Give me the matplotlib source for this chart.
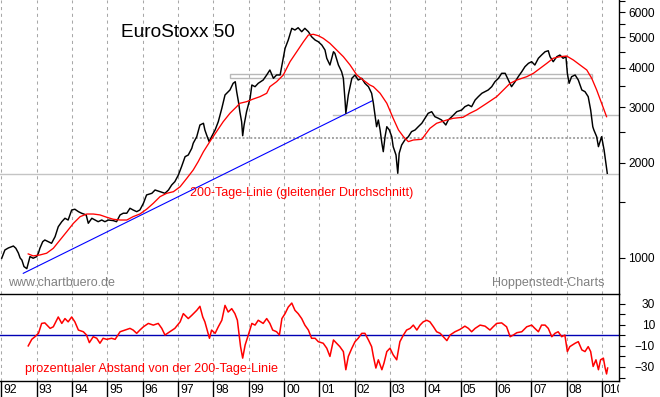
import matplotlib
matplotlib.use('Agg')
import matplotlib.pyplot as plt
import matplotlib.transforms as mtransforms
from matplotlib.ticker import FixedLocator, NullFormatter, FuncFormatter
from matplotlib.patches import Rectangle

plt.rcParams['font.family'] = ['Liberation Sans', 'DejaVu Sans']

#----------Data----------------------------------
price_years = [1992.01, 1992.10, 1992.20, 1992.34, 1992.41, 1992.48, 1992.53, 1992.58, 1992.64, 1992.72,
               1992.81, 1992.90, 1993.00, 1993.05, 1993.09, 1993.17, 1993.23, 1993.33, 1993.42, 1993.52,
               1993.61, 1993.71, 1993.80, 1993.89, 1993.99, 1994.08, 1994.18, 1994.27, 1994.40, 1994.46,
               1994.56, 1994.65, 1994.74, 1994.84, 1994.93, 1995.03, 1995.17, 1995.26, 1995.36, 1995.45,
               1995.55, 1995.64, 1995.73, 1995.83, 1995.92, 1996.02, 1996.11, 1996.26, 1996.35, 1996.49,
               1996.63, 1996.73, 1996.82, 1996.91, 1997.01, 1997.10, 1997.20, 1997.29, 1997.39, 1997.43,
               1997.53, 1997.62, 1997.72, 1997.76, 1997.81, 1997.88, 1997.95, 1998.05, 1998.14, 1998.24,
               1998.33, 1998.42, 1998.47, 1998.56, 1998.62, 1998.66, 1998.71, 1998.75, 1998.80, 1998.83,
               1998.87, 1998.94, 1999.04, 1999.09, 1999.18, 1999.27, 1999.41, 1999.51, 1999.60, 1999.70,
               1999.79, 1999.89, 1999.96, 2000.03, 2000.12, 2000.22, 2000.31, 2000.40, 2000.50, 2000.59,
               2000.69, 2000.78, 2000.88, 2000.97, 2001.07, 2001.16, 2001.21, 2001.30, 2001.40, 2001.44,
               2001.54, 2001.63, 2001.68, 2001.73, 2001.75, 2001.82, 2001.92, 2002.01, 2002.10, 2002.20,
               2002.29, 2002.39, 2002.48, 2002.53, 2002.58, 2002.62, 2002.67, 2002.72, 2002.77, 2002.81,
               2002.86, 2002.91, 2002.98, 2003.05, 2003.09, 2003.17, 2003.22, 2003.26, 2003.33, 2003.42,
               2003.52, 2003.61, 2003.71, 2003.80, 2003.90, 2003.99, 2004.08, 2004.18, 2004.27, 2004.37,
               2004.46, 2004.58, 2004.65, 2004.75, 2004.89, 2005.03, 2005.12, 2005.22, 2005.31, 2005.41,
               2005.50, 2005.60, 2005.69, 2005.78, 2005.88, 2005.97, 2006.07, 2006.16, 2006.26, 2006.35,
               2006.44, 2006.54, 2006.63, 2006.73, 2006.82, 2006.92, 2007.01, 2007.10, 2007.20, 2007.29,
               2007.39, 2007.48, 2007.53, 2007.62, 2007.72, 2007.81, 2007.90, 2007.98, 2008.02, 2008.07,
               2008.14, 2008.24, 2008.33, 2008.43, 2008.52, 2008.61, 2008.68, 2008.74, 2008.77, 2008.85,
               2008.90, 2008.99, 2009.06, 2009.11, 2009.15]
price_values = [998, 1060, 1076, 1091, 1073, 1037, 1000, 985, 939, 925,
                1010, 998, 1010, 1037, 1073, 1126, 1140, 1126, 1113, 1168,
                1256, 1303, 1336, 1319, 1419, 1427, 1402, 1386, 1369, 1288,
                1336, 1319, 1303, 1319, 1303, 1319, 1313, 1303, 1369, 1386,
                1386, 1437, 1419, 1402, 1419, 1490, 1584, 1603, 1642, 1622,
                1603, 1642, 1703, 1745, 1832, 1947, 2094, 2120, 2227, 2310,
                2423, 2639, 2672, 2545, 2453, 2337, 2423, 2545, 2704, 2981,
                3285, 3365, 3407, 3577, 3619, 3365, 3128, 2908, 2704, 2440,
                2639, 2908, 3207, 3533, 3490, 3577, 3664, 3801, 3942, 3710,
                3801, 3801, 4188, 4617, 4906, 5343, 5278, 5367, 5213, 5343,
                5213, 5026, 4906, 4845, 4730, 4561, 4294, 4088, 4504, 4452,
                4088, 3894, 3710, 3128, 2874, 3285, 3710, 3801, 3664, 3710,
                3577, 3490, 3326, 3092, 2804, 2606, 2737, 2545, 2310, 2172,
                2423, 2606, 2545, 2423, 2253, 2120, 1855, 2147, 2280, 2365,
                2423, 2514, 2545, 2606, 2672, 2771, 2874, 2908, 2804, 2771,
                2737, 2639, 2737, 2804, 2908, 2944, 3016, 3054, 3016, 3167,
                3245, 3326, 3365, 3407, 3490, 3619, 3710, 3848, 3848, 3664,
                3490, 3619, 3754, 3894, 4038, 4140, 4188, 4088, 4294, 4397,
                4504, 4537, 4344, 4188, 4344, 4397, 4294, 4344, 3848, 3577,
                3754, 3801, 3664, 3407, 3365, 3245, 2944, 2606, 2545, 2423,
                2253, 2423, 2199, 1995, 1855]

# 200-Tage-Linie
ma_years = [1992.76, 1992.90, 1993.09, 1993.28, 1993.47, 1993.66, 1993.85, 1994.04, 1994.23, 1994.42,
            1994.60, 1994.79, 1994.98, 1995.17, 1995.36, 1995.55, 1995.73, 1995.92, 1996.11, 1996.30,
            1996.49, 1996.68, 1996.87, 1997.06, 1997.25, 1997.43, 1997.57, 1997.72, 1997.90, 1998.09,
            1998.28, 1998.47, 1998.66, 1998.75, 1998.94, 1999.13, 1999.32, 1999.51, 1999.60, 1999.79,
            1999.98, 2000.17, 2000.36, 2000.55, 2000.69, 2000.83, 2000.97, 2001.11, 2001.30, 2001.49,
            2001.68, 2001.87, 2002.06, 2002.24, 2002.43, 2002.53, 2002.72, 2002.91, 2003.09, 2003.24,
            2003.38, 2003.52, 2003.66, 2003.90, 2003.99, 2004.13, 2004.32, 2004.61, 2004.79, 2005.07,
            2005.26, 2005.45, 2005.74, 2006.02, 2006.21, 2006.40, 2006.59, 2006.87, 2007.06, 2007.25,
            2007.44, 2007.62, 2007.81, 2008.00, 2008.19, 2008.38, 2008.57, 2008.71, 2008.85, 2008.99,
            2009.13]
ma_values = [1030, 1015, 1022, 1035, 1073, 1140, 1211, 1288, 1352, 1378,
             1378, 1369, 1346, 1326, 1319, 1319, 1352, 1378, 1427, 1490,
             1564, 1603, 1622, 1682, 1789, 1900, 2019, 2172, 2337, 2514,
             2704, 2874, 3016, 3092, 3128, 3190, 3245, 3326, 3490, 3619,
             3801, 4188, 4504, 4845, 5089, 5115, 5063, 4968, 4788, 4561,
             4344, 4088, 3801, 3664, 3533, 3490, 3326, 3092, 2771, 2545,
             2423, 2337, 2365, 2377, 2453, 2575, 2672, 2737, 2771, 2792,
             2874, 2944, 3092, 3245, 3407, 3577, 3664, 3754, 3848, 3991,
             4140, 4294, 4344, 4365, 4240, 4088, 3942, 3710, 3407, 3092,
             2804]

# prozentualer Abstand von der 200-Tage-Linie
dev_years = [1992.76, 1992.86, 1992.95, 1993.05, 1993.14, 1993.23, 1993.38, 1993.47, 1993.61, 1993.71,
             1993.80, 1993.89, 1993.99, 1994.08, 1994.18, 1994.32, 1994.41, 1994.49, 1994.60, 1994.70,
             1994.79, 1994.88, 1994.98, 1995.12, 1995.22, 1995.36, 1995.50, 1995.64, 1995.73, 1995.83,
             1995.92, 1996.02, 1996.16, 1996.30, 1996.44, 1996.54, 1996.63, 1996.77, 1996.91, 1997.06,
             1997.15, 1997.29, 1997.39, 1997.53, 1997.62, 1997.70, 1997.76, 1997.89, 1997.95, 1998.05,
             1998.14, 1998.24, 1998.33, 1998.42, 1998.52, 1998.61, 1998.68, 1998.73, 1998.77, 1998.83,
             1998.90, 1998.99, 1999.09, 1999.18, 1999.27, 1999.41, 1999.51, 1999.60, 1999.68, 1999.79,
             1999.87, 1999.94, 2000.03, 2000.12, 2000.22, 2000.31, 2000.40, 2000.50, 2000.59, 2000.69,
             2000.78, 2000.88, 2000.97, 2001.11, 2001.21, 2001.30, 2001.40, 2001.49, 2001.58, 2001.68,
             2001.75, 2001.82, 2001.92, 2002.01, 2002.10, 2002.20, 2002.29, 2002.39, 2002.48, 2002.53,
             2002.60, 2002.67, 2002.77, 2002.83, 2002.91, 2003.00, 2003.09, 2003.19, 2003.23, 2003.28,
             2003.38, 2003.47, 2003.57, 2003.66, 2003.76, 2003.85, 2003.94, 2004.04, 2004.13, 2004.23,
             2004.32, 2004.42, 2004.51, 2004.61, 2004.70, 2004.84, 2004.98, 2005.12, 2005.22, 2005.31,
             2005.41, 2005.55, 2005.69, 2005.83, 2005.92, 2006.02, 2006.16, 2006.30, 2006.40, 2006.49,
             2006.59, 2006.73, 2006.87, 2007.01, 2007.10, 2007.20, 2007.29, 2007.39, 2007.48, 2007.58,
             2007.67, 2007.76, 2007.86, 2007.95, 2008.02, 2008.09, 2008.24, 2008.33, 2008.43, 2008.52,
             2008.61, 2008.68, 2008.75, 2008.83, 2008.90, 2008.96, 2009.04, 2009.09, 2009.13, 2009.16]
dev_values = [-10, -3.8, -1.3, 1.9, 11.3, 11.8, 6.6, 8.1, 17.4, 11.3,
              15.9, 12.8, 17.4, 12.8, 5, 3.4, 0.3, -6.9, -1.3, -2.8,
              -7.5, -2.8, -3.8, -2.8, -3.8, 3.4, 5, 6.6, 5, 1.9,
              5, 8.1, 11.3, 9.7, 11.3, 6.6, 0.3, 3.4, 6.6, 12.8,
              20.6, 15.9, 19, 23.7, 27.5, 17.4, 12.8, -2.8, 5, 1.9,
              8.1, 14.3, 28.4, 22.1, 25.3, 20.6, 14.3, 0.3, -10.7, -21.6,
              -9.1, 0.3, 11.3, 9.7, 14.3, 11.3, 15.9, 11.3, 5, 3.4,
              0.3, 15.9, 20.6, 26.8, 30.6, 23.7, 20.6, 15.9, 9.7, 5,
              -2.8, -2.8, -6, -7.5, -12.2, -20, -4.4, -7.5, -10.7, -15.4,
              -32.6, -20, -12.2, -6, -2.8, 1.9, 1.9, -4.4, -10.7, -20,
              -31, -23.2, -32.6, -26.3, -15.4, -12.2, -18.5, -23.2, -15.4, -6,
              0.3, 5, 6.6, 9.7, 5, 9.7, 12.8, 14.3, 12.8, 8.1,
              3.4, 1.9, -1.3, -5, 0.3, 3.4, 5.6, 8.7, 6.6, 3.4,
              6.6, 9.7, 8.7, 5, 8.1, 11.3, 11.8, 8.1, -1.3, 0.3,
              2.5, 3.4, 8.1, 9.7, 6.6, 3.4, 9.7, 9.7, 6.6, -1.3,
              1.9, 3.4, -1.3, 0.3, -15.4, -10.7, -7.5, -6, -13.8, -15.4,
              -10.7, -15.4, -29.5, -23.2, -32.6, -23.2, -21.6, -31, -36.6, -31]

# trend line and support/resistance marks
trend_years = [1992.62, 2002.50]
trend_values = [894, 3150]
band_years = [1998.47, 2008.72]
band_values = [3718, 3828]
level_solid = 2838
level_solid_from = 2001.39
level_dotted = 2406
level_dotted_span = [1997.40, 2009.09]
level_low = 1842

year_ticks = list(range(1992, 2010))
year_labels = ['92', '93', '94', '95', '96', '97', '98', '99', '00', '01',
               '02', '03', '04', '05', '06', '07', '08', '010']
price_ticks = [1000, 2000, 3000, 4000, 5000, 6000]
price_minor = [1500, 2500, 3500, 4500, 5500, 6500]
dev_ticks = [30, 10, -10, -30]
dev_minor = [40, 20, 0, -20, -40]

#----------Layout-------------
W, H = 660, 397
fig = plt.figure(figsize=(W / 100, H / 100), dpi=100)
fig.patch.set_facecolor('white')

def px_axes(x0, y0, x1, y1):
    return fig.add_axes([x0 / W, 1 - y1 / H, (x1 - x0) / W, (y1 - y0) / H])

ax = px_axes(0, 0, 619, 294.3)
ax2 = px_axes(0, 294.3, 619, 380.7)
ax3 = px_axes(0, 380.7, 619, 397)

xlim = (1991.961, 2009.482)
grid_kw = dict(color='#a8a8a8', linestyle=(0, (3, 3.5)), linewidth=0.75)

for a in (ax, ax2):
    a.set_xlim(*xlim)
    a.set_xticks(year_ticks)
    a.tick_params(axis='x', bottom=False, labelbottom=False)
    a.grid(axis='x', **grid_kw)
    a.set_axisbelow(True)
    a.spines['left'].set_visible(False)
    a.spines['right'].set_linewidth(1.0)
    a.yaxis.tick_right()
    a.tick_params(axis='y', which='both', direction='out', right=True, left=False,
                  labelright=True, labelleft=False, width=0.8, labelsize=8.6)
    a.tick_params(axis='y', which='major', length=4.3, pad=21.6)
    a.tick_params(axis='y', which='minor', length=4.3)

#----------Top: EuroStoxx 50-------------
ax.spines['top'].set_visible(False)
ax.spines['bottom'].set_visible(False)
ax.set_yscale('log')
ax.set_ylim(767, 6570)
ax.yaxis.set_major_locator(FixedLocator(price_ticks))
ax.yaxis.set_minor_locator(FixedLocator(price_minor))
ax.yaxis.set_major_formatter(FuncFormatter(lambda v, p: '%d' % round(v)))
ax.yaxis.set_minor_formatter(NullFormatter())

ax.add_patch(Rectangle((band_years[0], band_values[0]), band_years[1] - band_years[0],
                       band_values[1] - band_values[0], fill=False, edgecolor='#b8b8b8',
                       linewidth=1.0, zorder=1.5))
ax.plot([level_solid_from, xlim[1]], [level_solid, level_solid], color='#bcbcbc', lw=1.0, zorder=1.5)
ax.plot(level_dotted_span, [level_dotted, level_dotted], color='#a4a4a4', lw=1.4,
        linestyle=(0, (1, 1)), zorder=1.5)
ax.axhline(level_low, color='#c4c4c4', lw=1.0, zorder=1.5)

ax.plot(trend_years, trend_values, color='#0000ff', lw=0.8, zorder=2)
ax.plot(price_years, price_values, color='black', lw=1.05, zorder=3)
ax.plot(ma_years, ma_values, color='#ff0000', lw=0.95, zorder=4)

ax.text(0.1955, 0.891, 'EuroStoxx 50', transform=ax.transAxes, fontsize=13.7,
        ha='left', va='center')
ax.text(0.307, 0.344, '200-Tage-Linie (gleitender Durchschnitt)', transform=ax.transAxes,
        fontsize=9, color='#ff0000', ha='left', va='center')
ax.text(0.0129, 0.038, 'www.chartbuero.de', transform=ax.transAxes, fontsize=9,
        color='#808080', ha='left', va='center')
ax.text(0.9758, 0.038, 'Hoppenstedt-Charts', transform=ax.transAxes, fontsize=9,
        color='#808080', ha='right', va='center')

#----------Bottom: Abstand-------------
ax2.set_ylim(-43.0, 38.9)
ax2.yaxis.set_major_locator(FixedLocator(dev_ticks))
ax2.yaxis.set_minor_locator(FixedLocator(dev_minor))
ax2.yaxis.set_minor_formatter(NullFormatter())
for s in ('top', 'bottom'):
    ax2.spines[s].set_linewidth(1.0)
ax2.axhline(0, color='#0000b4', lw=1.0, zorder=2)
ax2.plot(dev_years, dev_values, color='#ff0000', lw=1.1, zorder=3)
ax2.text(0.0404, 0.135, 'prozentualer Abstand von der 200-Tage-Linie', transform=ax2.transAxes,
         fontsize=9.1, color='#ff0000', ha='left', va='center')

for a in (ax, ax2):
    plt.setp(a.get_yticklabels(), ha='right')

#----------Year strip-------------
ax3.set_xlim(*xlim)
ax3.set_ylim(0, 1)
ax3.axis('off')
ax3.vlines(year_ticks, 0, 1, color='black', lw=1.0)
lbl_tr = mtransforms.offset_copy(ax3.transData, fig=fig, x=2, y=0, units='dots')
for yr, lbl in zip(year_ticks, year_labels):
    ax3.text(yr, 0.42, lbl, transform=lbl_tr, fontsize=8.8, ha='left', va='center',
             clip_on=True)

plt.savefig('out.png', dpi=100)
